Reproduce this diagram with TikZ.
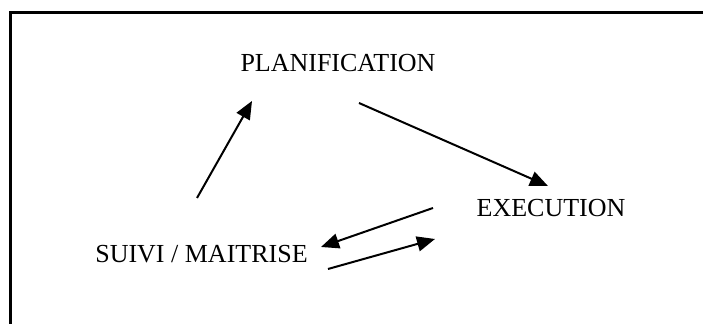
\documentclass[tikz,border=0pt]{standalone}
\usepackage{fontspec}
\setmainfont{Liberation Serif}
\usetikzlibrary{arrows.meta,calc}

\begin{document}
\begin{tikzpicture}[x=0.5pt,y=-0.5pt,
    label/.style={inner sep=0pt,font=\fontsize{13}{15}\selectfont},
    flow/.style={line width=1pt,-{Triangle[length=9pt,width=7.5pt]}}]
    \clip (0,0) rectangle (703,324);
    \draw[line width=1.5pt] (10.5,12.5) rectangle (740,360);
    \node[label] (plan) at (338,63.5) {PLANIFICATION};
    \node[label] (exec) at (551,208.5) {EXECUTION};
    \node[label] (suivi) at (201.5,254) {SUIVI / MAITRISE};
    % arrow end points
    \coordinate (s1) at ($(suivi.center)+(-4.5,-56)$);
    \coordinate (p1) at ($(plan.center)+(-86,37.5)$);
    \coordinate (p2) at ($(plan.center)+(21,39.5)$);
    \coordinate (e1) at ($(exec.center)+(-3,-22.5)$);
    \coordinate (e2) at ($(exec.center)+(-118,-0.5)$);
    \coordinate (s2) at ($(suivi.center)+(119.5,-7)$);
    \coordinate (s3) at ($(suivi.center)+(126.5,15)$);
    \coordinate (e3) at ($(exec.center)+(-116,30.5)$);
    \draw[flow] (s1) -- (p1);
    \draw[flow] (p2) -- (e1);
    \draw[flow] (e2) -- (s2);
    \draw[flow] (s3) -- (e3);
  \end{tikzpicture}
\end{document}
